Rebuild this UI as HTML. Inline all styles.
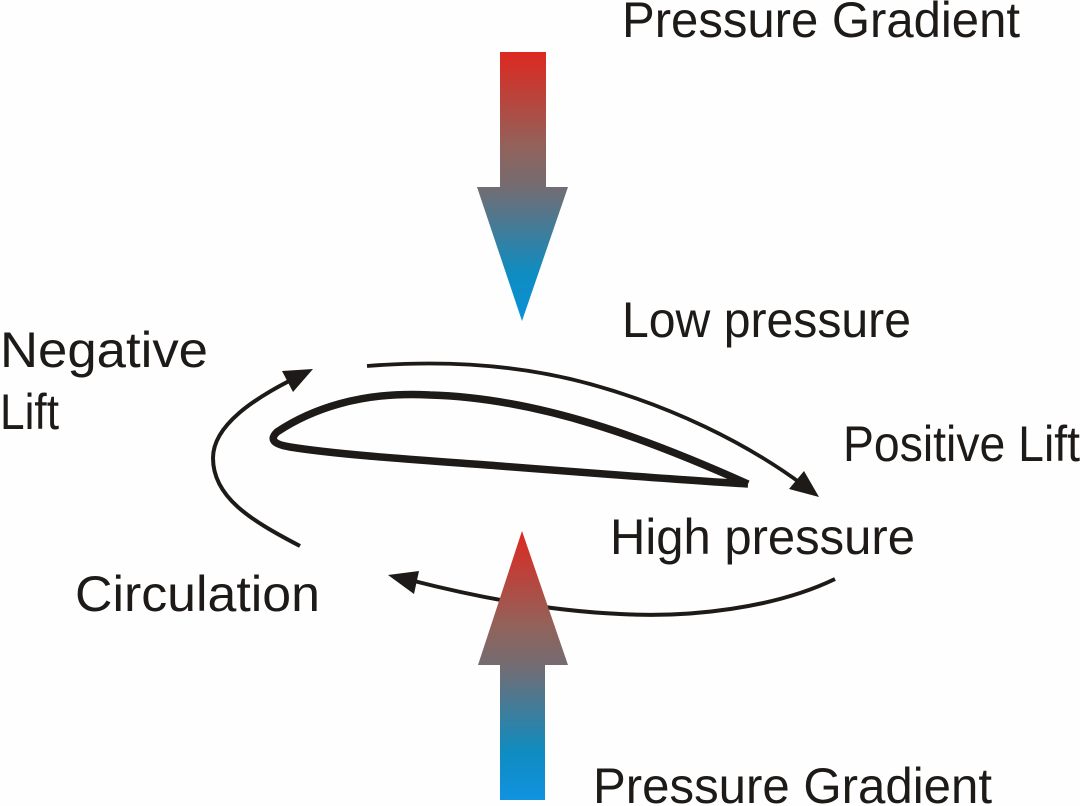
<!DOCTYPE html>
<html>
<head>
<meta charset="utf-8">
<style>
html,body{margin:0;padding:0;background:#fefefe;}
svg{display:block;}
text{font-family:"Liberation Sans",sans-serif;font-size:50px;fill:#1d1a17;}
</style>
</head>
<body>
<svg width="1080" height="806" viewBox="0 0 1080 806" xmlns="http://www.w3.org/2000/svg">
<defs>
<linearGradient id="g1" gradientUnits="userSpaceOnUse" x1="0" y1="52" x2="0" y2="321">
<stop offset="0" stop-color="#de2820"/>
<stop offset="0.35" stop-color="#92625a"/>
<stop offset="0.5" stop-color="#746c72"/>
<stop offset="0.82" stop-color="#0f8cc0"/>
<stop offset="1" stop-color="#0a92d8"/>
</linearGradient>
<linearGradient id="g2" gradientUnits="userSpaceOnUse" x1="0" y1="531" x2="0" y2="800">
<stop offset="0" stop-color="#de2820"/>
<stop offset="0.35" stop-color="#92625a"/>
<stop offset="0.5" stop-color="#746c72"/>
<stop offset="0.82" stop-color="#0f8cc0"/>
<stop offset="1" stop-color="#1092e0"/>
</linearGradient>
</defs>
<rect width="1080" height="806" fill="#fefefe"/>

<path d="M367 366 C 430 361 510 362 590 384 C 670 406 745 442 803 485" fill="none" stroke="#1d1a17" stroke-width="3.8"/>
<path d="M819 497 L789 489 L804 471 Z" fill="#1d1a17"/>

<path d="M300 546 C 250 520 213 497 213 458 C 213 425 255 398 295 378" fill="none" stroke="#1d1a17" stroke-width="4"/>
<path d="M313 369 L282 371 L293 392 Z" fill="#1d1a17"/>

<path d="M835 579 C 775 608 690 618 620 614 C 550 611 480 598 410 580" fill="none" stroke="#1d1a17" stroke-width="4"/>
<path d="M388 575 L419 571 L414 594 Z" fill="#1d1a17"/>

<path d="M748 484 C 650 440 540 398 430 395 C 360 391 310 410 277 432 C 270 439 272 444 290 447 C 340 455 420 460 500 466 C 590 473 680 480 748 484" fill="none" stroke="#1d1a17" stroke-width="7.5"/>

<path d="M500 52 H546 V187 H568 L522 321 L477 187 H500 Z" fill="url(#g1)"/>
<path d="M522 531 L568 665 H545 V800 H500 V665 H478 Z" fill="url(#g2)"/>

<text x="622" y="37" textLength="398" lengthAdjust="spacingAndGlyphs">Pressure Gradient</text>
<text x="622" y="337" textLength="289" lengthAdjust="spacingAndGlyphs">Low pressure</text>
<text x="0" y="367" textLength="208" lengthAdjust="spacingAndGlyphs">Negative</text>
<text x="0" y="429" textLength="59" lengthAdjust="spacingAndGlyphs">Lift</text>
<text x="843" y="461" textLength="237" lengthAdjust="spacingAndGlyphs">Positive Lift</text>
<text x="610" y="554" textLength="305" lengthAdjust="spacingAndGlyphs">High pressure</text>
<text x="75" y="611" textLength="245" lengthAdjust="spacingAndGlyphs">Circulation</text>
<text x="593" y="803" textLength="399" lengthAdjust="spacingAndGlyphs">Pressure Gradient</text>
</svg>
</body>
</html>
